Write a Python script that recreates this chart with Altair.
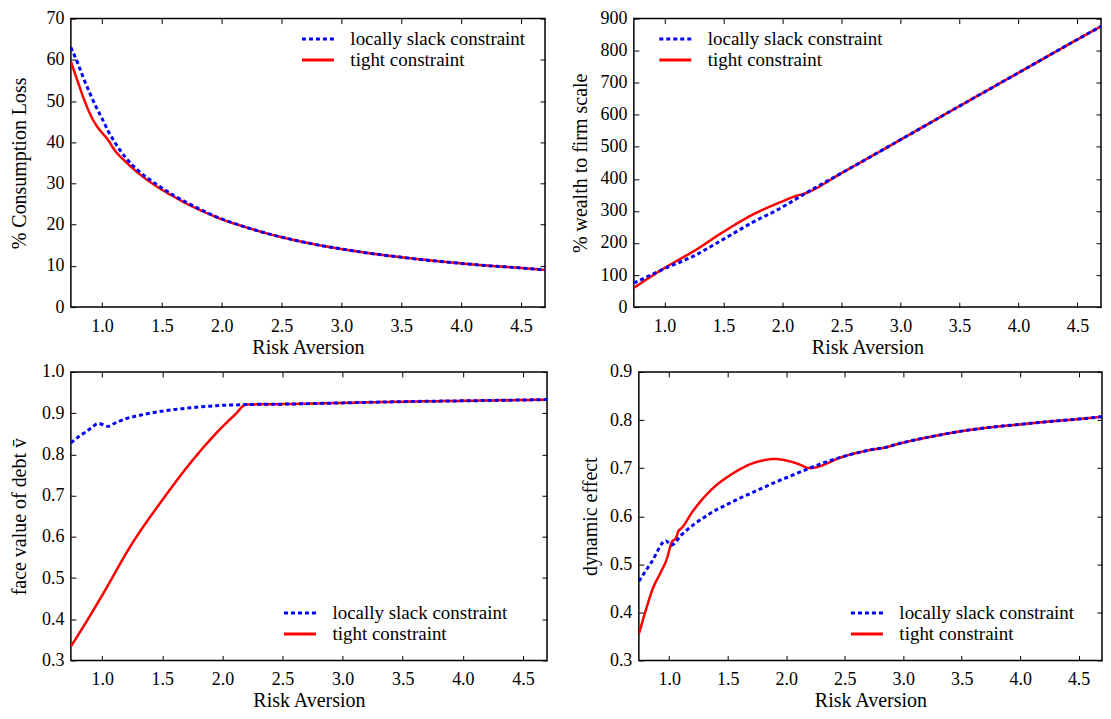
import altair as alt
import pandas as pd

SERIES = ["locally slack constraint", "tight constraint"]
COLORS = ["#0000ff", "#ff0000"]
X_TICKS = [1.0, 1.5, 2.0, 2.5, 3.0, 3.5, 4.0, 4.5]
FONT = "Liberation Serif, Times New Roman, Times, DejaVu Serif, serif"

# --- Panel 1: % Consumption Loss
cl_x = [0.74, 0.8, 0.85, 0.9, 0.95, 1.0, 1.05, 1.1, 1.2, 1.3, 1.4, 1.5, 1.6, 1.7, 1.8,
        1.9, 2.0, 2.2, 2.4, 2.6, 2.8, 3.0, 3.25, 3.5, 3.75, 4.0, 4.25, 4.5, 4.7]
cl_slack = [63.0, 59.0, 55.2, 51.8, 48.6, 45.8, 42.8, 40.3, 36.2, 33.2, 30.9, 28.9, 27.1,
            25.5, 24.0, 22.6, 21.4, 19.4, 17.7, 16.3, 15.1, 14.1, 13.0, 12.1, 11.3, 10.6,
            10.0, 9.5, 9.0]
cl_tight = [59.6, 54.5, 50.4, 46.9, 44.2, 42.3, 40.6, 38.3, 35.2, 32.6, 30.4, 28.5, 26.8,
            25.2, 23.8, 22.5, 21.3, 19.4, 17.7, 16.3, 15.1, 14.1, 13.0, 12.1, 11.3, 10.6,
            10.0, 9.5, 9.0]

# --- Panel 2: % wealth to firm scale
ws_x = [0.74, 1.0, 1.25, 1.5, 1.75, 2.0, 2.1, 2.2, 2.5, 3.0, 3.5, 4.0, 4.5, 4.7]
ws_slack = [75, 120, 160, 212, 265, 312, 334, 356, 418, 522, 627, 731, 835, 876]
ws_tight = [60, 122, 175, 235, 289, 330, 345, 356, 418, 522, 627, 731, 835, 876]

# --- Panel 3: face value of debt
fv_slack_x = [0.74, 0.8, 0.85, 0.9, 0.97, 1.05, 1.1, 1.2, 1.3, 1.4, 1.5, 1.6, 1.7, 1.8,
              1.9, 2.0, 2.1, 2.2, 2.5, 3.0, 3.5, 4.0, 4.5, 4.7]
fv_slack = [0.828, 0.842, 0.852, 0.862, 0.875, 0.868, 0.875, 0.887, 0.894, 0.900, 0.905,
            0.909, 0.912, 0.915, 0.917, 0.919, 0.920, 0.921, 0.922, 0.925, 0.928, 0.930,
            0.932, 0.933]
fv_tight_x = [0.74, 0.85, 1.0, 1.25, 1.5, 1.75, 2.0, 2.1, 2.2, 2.5, 3.0, 3.5, 4.0, 4.5, 4.7]
fv_tight = [0.334, 0.385, 0.458, 0.584, 0.689, 0.785, 0.867, 0.895, 0.921, 0.922, 0.925,
            0.928, 0.930, 0.932, 0.933]

# --- Panel 4: dynamic effect
de_slack_x = [0.74, 0.85, 0.97, 1.02, 1.1, 1.2, 1.3, 1.4, 1.5, 1.6, 1.7, 1.8, 1.9, 2.0,
              2.1, 2.2, 2.5, 2.7, 2.88, 2.92, 3.0, 3.25, 3.5, 3.75, 4.0, 4.25, 4.5, 4.7]
de_slack = [0.465, 0.505, 0.549, 0.540, 0.560, 0.581, 0.598, 0.613, 0.625, 0.637, 0.648,
            0.659, 0.670, 0.680, 0.690, 0.700, 0.725, 0.737, 0.745, 0.748, 0.753, 0.766,
            0.777, 0.785, 0.791, 0.797, 0.802, 0.807]
de_tight_x = [0.74, 0.8, 0.86, 0.92, 0.98, 1.02, 1.06, 1.08, 1.1, 1.2, 1.3, 1.4, 1.5, 1.6,
              1.7, 1.8, 1.9, 2.0, 2.1, 2.2, 2.5, 2.7, 2.88, 2.92, 3.0, 3.25, 3.5, 3.75,
              4.0, 4.25, 4.5, 4.7]
de_tight = [0.355, 0.405, 0.450, 0.480, 0.512, 0.545, 0.556, 0.570, 0.574, 0.610, 0.640,
            0.664, 0.682, 0.697, 0.709, 0.716, 0.719, 0.716, 0.709, 0.700, 0.725, 0.737,
            0.745, 0.748, 0.753, 0.766, 0.777, 0.785, 0.791, 0.797, 0.802, 0.807]


def frame(xs, ys, name):
    return pd.DataFrame({"x": xs, "y": ys, "series": name})


def panel(sx, sy, tx, ty, ytitle, ydomain, yticks, yfmt, w, h, legx, legy,
          ypad=7, ytitlepad=7):
    df = pd.concat([frame(sx, sy, SERIES[0]), frame(tx, ty, SERIES[1])], ignore_index=True)
    x = alt.X("x:Q",
              scale=alt.Scale(domain=[0.74, 4.7], nice=False, zero=False),
              axis=alt.Axis(title="Risk Aversion", values=X_TICKS, format=".1f",
                            grid=True, gridDash=[5, h - 10, 5, 4000],
                            labelPadding=10, titlePadding=2))
    y = alt.Y("y:Q",
              scale=alt.Scale(domain=ydomain, nice=False, zero=False),
              axis=alt.Axis(title=ytitle, values=yticks, format=yfmt,
                            grid=True, gridDash=[5, w - 10, 5, 4000],
                            labelPadding=ypad, titlePadding=ytitlepad))
    leg = alt.Legend(title=None, orient="none", legendX=legx, legendY=legy,
                     symbolType="stroke", symbolSize=1024, symbolStrokeWidth=3,
                     labelFont=FONT, labelFontSize=19, labelColor="black", labelLimit=400,
                     labelOffset=15, rowPadding=0, clipHeight=21, padding=0)
    color = alt.Color("series:N", scale=alt.Scale(domain=SERIES, range=COLORS), legend=leg)
    dash = alt.StrokeDash("series:N", scale=alt.Scale(domain=SERIES, range=[[4, 3], [1, 0]]),
                          legend=leg)
    base = alt.Chart(df)
    red = base.transform_filter(alt.datum.series == SERIES[1]).mark_line(
        strokeWidth=2.5, interpolate="monotone", clip=True).encode(x=x, y=y, color=color,
                                                                   strokeDash=dash)
    blue = base.transform_filter(alt.datum.series == SERIES[0]).mark_line(
        strokeWidth=3, interpolate="monotone", clip=True).encode(x=x, y=y, color=color,
                                                                 strokeDash=dash)
    return alt.layer(red, blue).properties(width=w, height=h)


p1 = panel(cl_x, cl_slack, cl_x, cl_tight, "% Consumption Loss", [0, 70],
           [0, 10, 20, 30, 40, 50, 60, 70], "d", 475, 289, 230, 10, ytitlepad=16)
p2 = panel(ws_x, ws_slack, ws_x, ws_tight, "% wealth to firm scale", [0, 900],
           [0, 100, 200, 300, 400, 500, 600, 700, 800, 900], "d", 468, 289, 24, 10,
           ytitlepad=9)
p3 = panel(fv_slack_x, fv_slack, fv_tight_x, fv_tight, "face value of debt v\u0304",
           [0.3, 1.0], [0.3, 0.4, 0.5, 0.6, 0.7, 0.8, 0.9, 1.0], ".1f", 477, 289, 212, 231,
           ytitlepad=12)
p4 = panel(de_slack_x, de_slack, de_tight_x, de_tight, "dynamic effect",
           [0.3, 0.9], [0.3, 0.4, 0.5, 0.6, 0.7, 0.8, 0.9], ".1f", 464, 289, 211, 231,
           ytitlepad=9)

ind = dict(color="independent", strokeDash="independent")
row1 = alt.hconcat(p1, p2, spacing=24).resolve_scale(**ind)
row2 = alt.hconcat(p3, p4, spacing=31).resolve_scale(**ind)

chart = alt.vconcat(row1, row2, spacing=4).resolve_scale(**ind).properties(
    padding=0, background="white"
).configure_view(stroke="black", strokeWidth=1.5).configure_axis(
    labelFont=FONT, labelFontSize=18, labelColor="black",
    titleFont=FONT, titleFontSize=20, titleFontWeight="normal", titleColor="black",
    ticks=False, domain=False, gridColor="black", gridWidth=1, gridOpacity=1,
)

chart.save("out.html", embed_options={"renderer": "svg", "actions": False})
